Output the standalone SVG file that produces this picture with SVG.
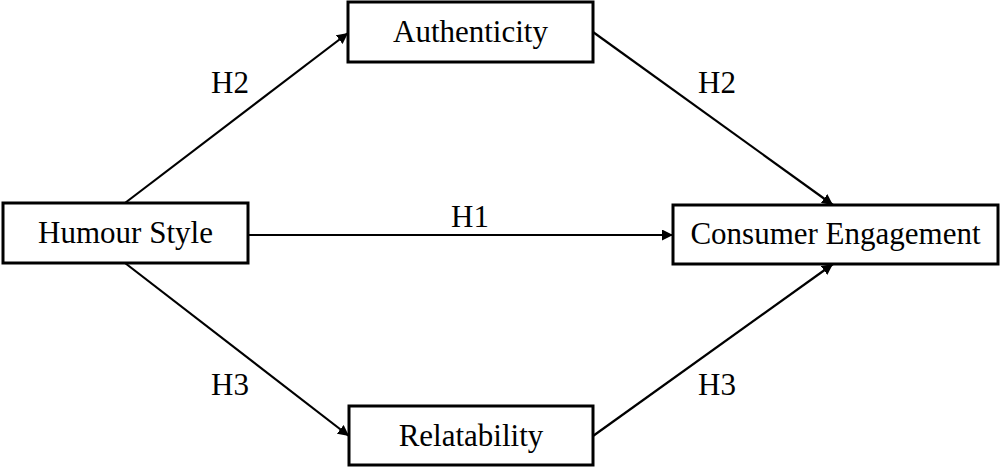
<svg xmlns="http://www.w3.org/2000/svg" width="1002" height="472" viewBox="0 0 1002 472">
<style>
.box{fill:#fff;stroke:#000;stroke-width:3}
.t{font-family:"Liberation Serif","Times New Roman",serif;font-size:31px;fill:#000;text-anchor:middle}
.c{stroke:#000;stroke-width:2.2;fill:none;marker-end:url(#ah)}
</style>
<defs>
<marker id="ah" viewBox="0 0 10 10" refX="10" refY="5" markerWidth="5" markerHeight="5" markerUnits="strokeWidth" orient="auto">
<path d="M0,0 L10,5 L0,10 z" fill="#000"/>
</marker>
</defs>
<rect width="1002" height="472" fill="#fff"/>
<g id="connectors">
<line class="c" x1="125" y1="203" x2="348" y2="33"/>
<line class="c" x1="593" y1="32" x2="833" y2="205"/>
<line class="c" x1="248" y1="235" x2="673" y2="235"/>
<line class="c" x1="125" y1="263" x2="349" y2="436"/>
<line class="c" x1="593" y1="436" x2="833" y2="264"/>
<text class="t" x="230" y="93">H2</text>
<text class="t" x="717" y="93">H2</text>
<text class="t" x="470" y="227">H1</text>
<text class="t" x="230" y="395">H3</text>
<text class="t" x="717" y="395">H3</text>
</g>
<g id="humour">
<rect class="box" x="3" y="203" width="245" height="60"/>
<text class="t" x="125.5" y="243">Humour Style</text>
</g>
<g id="authenticity">
<rect class="box" x="348" y="2" width="245" height="60"/>
<text class="t" x="470.5" y="42">Authenticity</text>
</g>
<g id="engagement">
<rect class="box" x="673" y="205" width="325" height="59"/>
<text class="t" x="835.5" y="244">Consumer Engagement</text>
</g>
<g id="relatability">
<rect class="box" x="349" y="406" width="244" height="59"/>
<text class="t" x="471" y="446">Relatability</text>
</g>
</svg>
